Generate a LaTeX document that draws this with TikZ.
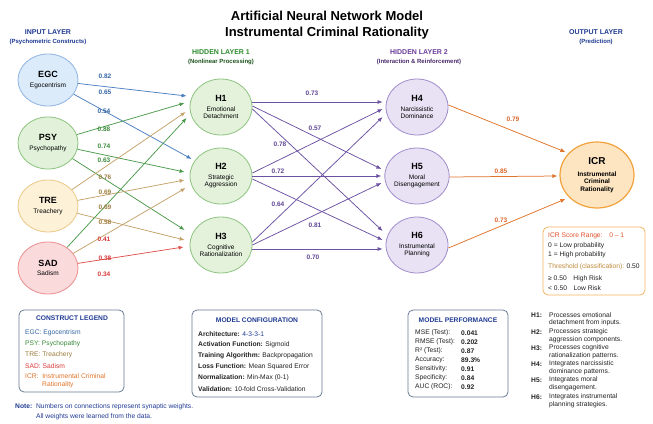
\documentclass[tikz,border=0pt]{standalone}
\usepackage{fontspec}
\setmainfont{Liberation Sans}
\usetikzlibrary{shapes.geometric,arrows.meta}
\definecolor{egcfill}{HTML}{DCEBFA}\definecolor{egcdraw}{HTML}{8DB5E2}\definecolor{egcedge}{HTML}{4A7FC1}\definecolor{egctext}{HTML}{3465A4}
\definecolor{psyfill}{HTML}{E2F2DA}\definecolor{psydraw}{HTML}{8CC47E}\definecolor{psyedge}{HTML}{4C9A4C}\definecolor{psytext}{HTML}{3A8A3A}
\definecolor{trefill}{HTML}{FDF1D8}\definecolor{tredraw}{HTML}{EBC987}\definecolor{treedge}{HTML}{C4A26A}\definecolor{tretext}{HTML}{9C7C3C}
\definecolor{sadfill}{HTML}{FBDADB}\definecolor{saddraw}{HTML}{EE8F8F}\definecolor{sadedge}{HTML}{E0524F}\definecolor{sadtext}{HTML}{D93A3A}
\definecolor{hafill}{HTML}{E4F2DC}\definecolor{hadraw}{HTML}{8DC47F}
\definecolor{hbfill}{HTML}{E8E2F4}\definecolor{hbdraw}{HTML}{A08CCB}\definecolor{hedge}{HTML}{6D52A3}\definecolor{htext}{HTML}{5E4595}
\definecolor{icrfill}{HTML}{FDE5C2}\definecolor{icrdraw}{HTML}{F2A23C}\definecolor{oedge}{HTML}{E0742A}\definecolor{otext}{HTML}{D9652B}
\definecolor{navy}{HTML}{1F3A93}\definecolor{hgreen}{HTML}{2E8B2E}\definecolor{hpurple}{HTML}{6A3D9A}
\definecolor{slate}{HTML}{6A7C96}\definecolor{thr}{HTML}{C08A3A}\definecolor{icrred}{HTML}{E0522A}\definecolor{dark}{HTML}{222222}
\begin{document}
\begin{tikzpicture}[x=1pt,y=-1pt,
  every node/.style={inner sep=0pt},
  neuron/.style={ellipse, draw, line width=0.8pt, align=center, font=\fontsize{6.5}{7.5}\selectfont},
  inneuron/.style={neuron, minimum width=60pt, minimum height=52pt},
  hidneuron/.style={neuron, minimum width=62pt, minimum height=56pt},
  wt/.style={font=\fontsize{6.5}{7}\selectfont\bfseries},
  conn/.style={line width=0.75pt, -{Latex[length=5pt,width=4pt]}},
  boxst/.style={draw, rounded corners=5pt, line width=0.8pt, fill=white},
  small/.style={font=\fontsize{6.7}{8}\selectfont, anchor=west},
  ltitle/.style={font=\fontsize{7}{8}\selectfont\bfseries},
  lsub/.style={font=\fontsize{6}{7}\selectfont\bfseries}]
\useasboundingbox (0,0) rectangle (653,423);
\fill[white] (0,0) rectangle (653,423);

% titles
\node[font=\fontsize{13}{15}\selectfont\bfseries] (t1) at (327,16) {Artificial Neural Network Model};
\node[font=\fontsize{13}{15}\selectfont\bfseries] (t2) at (327,33) {Instrumental Criminal Rationality};
\node[ltitle, navy] (li) at (48,32) {INPUT LAYER};
\node[lsub, navy] (lis) at (48,42) {(Psychometric Constructs)};
\node[ltitle, hgreen] (lh1) at (221,52) {HIDDEN LAYER 1};
\node[lsub, hgreen!60!black] (lh1s) at (221,62) {(Nonlinear Processing)};
\node[ltitle, hpurple] (lh2) at (419,52) {HIDDEN LAYER 2};
\node[lsub, hpurple!70!black] (lh2s) at (419,62) {(Interaction \& Reinforcement)};
\node[ltitle, navy] (lo) at (596,32) {OUTPUT LAYER};
\node[lsub, navy] (los) at (596,42) {(Prediction)};

% neurons
\node[inneuron, fill=egcfill, draw=egcdraw] (EGC) at (48,80) {{\fontsize{9}{9}\selectfont\bfseries EGC}\\[2pt]Egocentrism};
\node[inneuron, fill=psyfill, draw=psydraw] (PSY) at (48,143) {{\fontsize{9}{9}\selectfont\bfseries PSY}\\[2pt]Psychopathy};
\node[inneuron, fill=trefill, draw=tredraw] (TRE) at (48,206) {{\fontsize{9}{9}\selectfont\bfseries TRE}\\[2pt]Treachery};
\node[inneuron, fill=sadfill, draw=saddraw] (SAD) at (48,268) {{\fontsize{9}{9}\selectfont\bfseries SAD}\\[2pt]Sadism};

\node[hidneuron, fill=hafill, draw=hadraw] (H1) at (221,107) {{\fontsize{9}{9}\selectfont\bfseries H1}\\[2pt]Emotional\\Detachment};
\node[hidneuron, fill=hafill, draw=hadraw] (H2) at (221,176) {{\fontsize{9}{9}\selectfont\bfseries H2}\\[2pt]Strategic\\Aggression};
\node[hidneuron, fill=hafill, draw=hadraw] (H3) at (221,245) {{\fontsize{9}{9}\selectfont\bfseries H3}\\[2pt]Cognitive\\Rationalization};

\node[hidneuron, fill=hbfill, draw=hbdraw] (H4) at (417,107) {{\fontsize{9}{9}\selectfont\bfseries H4}\\[2pt]Narcissistic\\Dominance};
\node[hidneuron, fill=hbfill, draw=hbdraw] (H5) at (417,176) {{\fontsize{9}{9}\selectfont\bfseries H5}\\[2pt]Moral\\Disengagement};
\node[hidneuron, fill=hbfill, draw=hbdraw] (H6) at (417,245) {{\fontsize{9}{9}\selectfont\bfseries H6}\\[2pt]Instrumental\\Planning};

\node[neuron, minimum width=74pt, minimum height=66pt, fill=icrfill, draw=icrdraw, line width=1.2pt] (ICR) at (597,175)
  {{\fontsize{10}{10}\selectfont\bfseries ICR}\\[4pt]{\bfseries Instrumental}\\{\bfseries Criminal}\\{\bfseries Rationality}};

% input -> hidden 1
\draw[conn, egcedge] (EGC) -- ([shift={(-3,-11)}]H1.west);
\draw[conn, egcedge] (EGC) -- ([shift={(2,-17)}]H2.west);
\draw[conn, psyedge] (PSY) -- ([shift={(-5,-4)}]H1.west);
\draw[conn, psyedge] (PSY) -- ([shift={(-5,-4)}]H2.west);
\draw[conn, psyedge] (PSY) -- ([shift={(-5,-15)}]H3.west);
\draw[conn, treedge] (TRE) -- ([shift={(-4,5)}]H1.west);
\draw[conn, treedge] (TRE) -- ([shift={(-5,4)}]H2.west);
\draw[conn, treedge] (TRE) -- ([shift={(-5,-5)}]H3.west);
\draw[conn, psyedge] (SAD) -- ([shift={(-3,11)}]H1.west);
\draw[conn, treedge] (SAD) -- ([shift={(-4,12)}]H2.west);
\draw[conn, sadedge] (SAD) -- ([shift={(-6,2)}]H3.west);

% hidden 1 -> hidden 2
\draw[conn, hedge] ([shift={(0,-5)}]H1.east) -- ([shift={(-3,-5)}]H4.west);
\draw[conn, hedge] ([shift={(0,-1)}]H1.east) -- ([shift={(-3,-7)}]H5.west);
\draw[conn, hedge] ([shift={(0,2)}]H1.east) -- ([shift={(-3,-14)}]H6.west);
\draw[conn, hedge] ([shift={(0,-3)}]H2.east) -- ([shift={(-3,2)}]H4.west);
\draw[conn, hedge] ([shift={(0,0)}]H2.east) -- ([shift={(-3,0)}]H5.west);
\draw[conn, hedge] ([shift={(0,3)}]H2.east) -- ([shift={(-3,-5)}]H6.west);
\draw[conn, hedge] ([shift={(0,-3)}]H3.east) -- ([shift={(-3,10)}]H4.west);
\draw[conn, hedge] ([shift={(0,0)}]H3.east) -- ([shift={(-3,7)}]H5.west);
\draw[conn, hedge] ([shift={(0,4)}]H3.east) -- ([shift={(-3,4)}]H6.west);

% hidden 2 -> output
\draw[conn, oedge] ([shift={(0,-2)}]H4.east) -- ([shift={(6,-23)}]ICR.west);
\draw[conn, oedge] ([shift={(0,1)}]H5.east) -- ([shift={(-2,1)}]ICR.west);
\draw[conn, oedge] ([shift={(0,3)}]H6.east) -- ([shift={(6,24)}]ICR.west);

% weights input
\node[wt, egctext] (w1) at (105,76) {0.82};
\node[wt, egctext] (w2) at (105,92) {0.65};
\node[wt, egctext] (w3) at (104,111) {0.54};
\node[wt, psytext] (w4) at (104,129) {0.88};
\node[wt, psytext] (w5) at (104,146) {0.74};
\node[wt, psytext] (w6) at (104,160) {0.63};
\node[wt, tretext] (w7) at (105,177) {0.76};
\node[wt, tretext] (w8) at (105,192) {0.69};
\node[wt, tretext] (w9) at (105,207) {0.69};
\node[wt, tretext] (w10) at (105,222) {0.58};
\node[wt, sadtext] (w11) at (104,239) {0.41};
\node[wt, sadtext] (w12) at (105,258) {0.38};
\node[wt, sadtext] (w13) at (104,274) {0.34};
% weights hidden
\node[wt, htext] (v1) at (312,93) {0.73};
\node[wt, htext] (v2) at (315,128) {0.57};
\node[wt, htext] (v3) at (280,144) {0.78};
\node[wt, htext] (v4) at (278,171) {0.72};
\node[wt, htext] (v5) at (278,204) {0.64};
\node[wt, htext] (v6) at (315,225) {0.81};
\node[wt, htext] (v7) at (313,257) {0.70};
% weights output
\node[wt, otext] (u1) at (513,119) {0.79};
\node[wt, otext] (u2) at (501,171) {0.85};
\node[wt, otext] (u3) at (501,220) {0.73};

% ICR score range box
\draw[boxst, draw=icrdraw!80] (543,227) rectangle (645,295);
\node[small, icrred] (s1) at (548,236) {ICR Score Range:\quad 0 – 1};
\node[small, dark] (s2) at (548,246) {0 = Low probability};
\node[small, dark] (s3) at (548,255) {1 = High probability};
\node[small, dark] (s4) at (548,267) {{\color{thr}Threshold (classification):} 0.50};
\node[small, dark] (s5) at (548,279) {≥ 0.50\quad High Risk};
\node[small, dark] (s6) at (548,288) {< 0.50\quad Low Risk};

% construct legend
\draw[boxst, draw=slate] (19,310) rectangle (124,392);
\node[font=\fontsize{6.7}{8}\selectfont\bfseries, navy] (lg) at (72,318) {CONSTRUCT LEGEND};
\node[small, egctext] (lg1) at (25,333) {EGC: Egocentrism};
\node[small, psytext] (lg2) at (25,344) {PSY: Psychopathy};
\node[small, tretext] (lg3) at (25,355) {TRE: Treachery};
\node[small, sadtext] (lg4) at (25,366) {SAD: Sadism};
\node[small, oedge] (lg5) at (25,376) {ICR:\ \ Instrumental Criminal};
\node[small, oedge] (lg6) at (42,385) {Rationality};

% model configuration
\draw[boxst, draw=slate] (192,310) rectangle (322,397);
\node[font=\fontsize{6.7}{8}\selectfont\bfseries, navy] (mc) at (257,320) {MODEL CONFIGURATION};
\node[small, dark] (mc1) at (198,334) {\textbf{Architecture:} {\color{navy}4-3-3-1}};
\node[small, dark] (mc2) at (198,345) {\textbf{Activation Function:} Sigmoid};
\node[small, dark] (mc3) at (198,356) {\textbf{Training Algorithm:} Backpropagation};
\node[small, dark] (mc4) at (198,367) {\textbf{Loss Function:} Mean Squared Error};
\node[small, dark] (mc5) at (198,378) {\textbf{Normalization:} Min-Max (0-1)};
\node[small, dark] (mc6) at (198,389) {\textbf{Validation:} 10-fold Cross-Validation};

% model performance
\draw[boxst, draw=slate] (408,310) rectangle (508,397);
\node[font=\fontsize{6.7}{8}\selectfont\bfseries, navy] (mp) at (458,320) {MODEL PERFORMANCE};
\node[small, dark] (mp1) at (415,333) {MSE (Test):};   \node[small, dark, font=\fontsize{6.7}{8}\selectfont\bfseries] (mv1) at (461,333) {0.041};
\node[small, dark] (mp2) at (415,342) {RMSE (Test):};  \node[small, dark, font=\fontsize{6.7}{8}\selectfont\bfseries] (mv2) at (461,342) {0.202};
\node[small, dark] (mp3) at (415,351) {R² (Test):};    \node[small, dark, font=\fontsize{6.7}{8}\selectfont\bfseries] (mv3) at (461,351) {0.87};
\node[small, dark] (mp4) at (415,360) {Accuracy:};     \node[small, dark, font=\fontsize{6.7}{8}\selectfont\bfseries] (mv4) at (461,360) {89.3\%};
\node[small, dark] (mp5) at (415,369) {Sensitivity:};  \node[small, dark, font=\fontsize{6.7}{8}\selectfont\bfseries] (mv5) at (461,369) {0.91};
\node[small, dark] (mp6) at (415,378) {Specificity:};  \node[small, dark, font=\fontsize{6.7}{8}\selectfont\bfseries] (mv6) at (461,378) {0.84};
\node[small, dark] (mp7) at (415,387) {AUC (ROC):};    \node[small, dark, font=\fontsize{6.7}{8}\selectfont\bfseries] (mv7) at (461,387) {0.92};

% right notes
\node[small, dark, font=\fontsize{6.7}{8}\selectfont\bfseries] (n1h) at (531,315) {H1:};
\node[small, dark] (n1a) at (549,315) {Processes emotional};
\node[small, dark] (n1b) at (549,323) {detachment from inputs.};
\node[small, dark, font=\fontsize{6.7}{8}\selectfont\bfseries] (n2h) at (531,332) {H2:};
\node[small, dark] (n2a) at (549,332) {Processes strategic};
\node[small, dark] (n2b) at (549,340) {aggression components.};
\node[small, dark, font=\fontsize{6.7}{8}\selectfont\bfseries] (n3h) at (531,348) {H3:};
\node[small, dark] (n3a) at (549,348) {Processes cognitive};
\node[small, dark] (n3b) at (549,356) {rationalization patterns.};
\node[small, dark, font=\fontsize{6.7}{8}\selectfont\bfseries] (n4h) at (531,364) {H4:};
\node[small, dark] (n4a) at (549,364) {Integrates narcissistic};
\node[small, dark] (n4b) at (549,372) {dominance patterns.};
\node[small, dark, font=\fontsize{6.7}{8}\selectfont\bfseries] (n5h) at (531,380) {H5:};
\node[small, dark] (n5a) at (549,380) {Integrates moral};
\node[small, dark] (n5b) at (549,388) {disengagement.};
\node[small, dark, font=\fontsize{6.7}{8}\selectfont\bfseries] (n6h) at (531,397) {H6:};
\node[small, dark] (n6a) at (549,397) {Integrates instrumental};
\node[small, dark] (n6b) at (549,405) {planning strategies.};

% note
\node[small, navy] (note1) at (15,407) {\textbf{Note:}\ \ Numbers on connections represent synaptic weights.};
\node[small, navy] (note2) at (36,417) {All weights were learned from the data.};
\end{tikzpicture}
\end{document}
